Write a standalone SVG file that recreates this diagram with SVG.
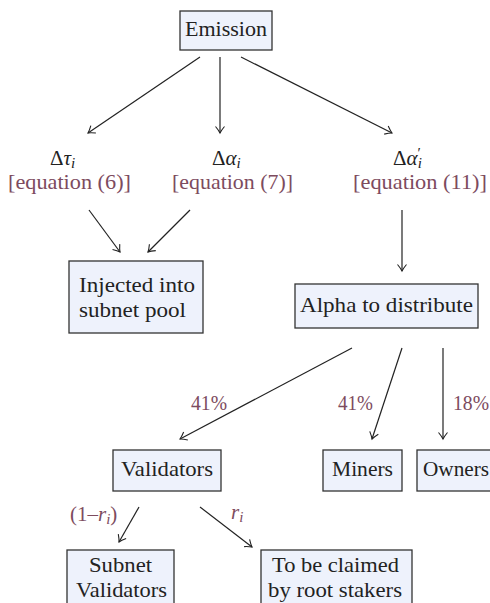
<svg xmlns="http://www.w3.org/2000/svg" xmlns:xlink="http://www.w3.org/1999/xlink" width="490" height="603" viewBox="0 0 490 603">
<defs>
<path id="ah" d="M -6.5 -4.5 Q -2.5 -1.2 0 0 Q -2.5 1.2 -6.5 4.5" fill="none" stroke="#222" stroke-width="1.1"/>
</defs>
<rect width="490" height="603" fill="#fff"/>
<g id="connectors" stroke="#222" stroke-width="1.2" fill="none">
<line x1="200" y1="57" x2="88" y2="133"/>
<line x1="220" y1="57" x2="220" y2="133"/>
<line x1="241" y1="57" x2="392" y2="133"/>
<line x1="89" y1="210" x2="120" y2="252"/>
<line x1="190" y1="210" x2="148" y2="252"/>
<line x1="402" y1="210" x2="402" y2="271"/>
<line x1="352" y1="348" x2="180" y2="439"/>
<line x1="402" y1="348" x2="372" y2="439"/>
<line x1="443" y1="348" x2="443" y2="439"/>
<line x1="139" y1="507" x2="119" y2="542"/>
<line x1="200" y1="507" x2="252" y2="547"/>
<use xlink:href="#ah" transform="translate(88,133) rotate(145.84)"/>
<use xlink:href="#ah" transform="translate(220,133) rotate(90)"/>
<use xlink:href="#ah" transform="translate(392,133) rotate(26.72)"/>
<use xlink:href="#ah" transform="translate(120,252) rotate(53.57)"/>
<use xlink:href="#ah" transform="translate(148,252) rotate(135)"/>
<use xlink:href="#ah" transform="translate(402,271) rotate(90)"/>
<use xlink:href="#ah" transform="translate(180,439) rotate(152.12)"/>
<use xlink:href="#ah" transform="translate(372,439) rotate(108.25)"/>
<use xlink:href="#ah" transform="translate(443,439) rotate(90)"/>
<use xlink:href="#ah" transform="translate(119,542) rotate(119.74)"/>
<use xlink:href="#ah" transform="translate(252,547) rotate(37.57)"/>
</g>
<g id="edge-labels" font-family="Liberation Serif, serif" font-size="21" fill="#7d4b5e">
<text font-family="Liberation Serif, serif" x="191" y="410" textLength="36" lengthAdjust="spacingAndGlyphs">41%</text>
<text font-family="Liberation Serif, serif" x="338" y="410" textLength="35" lengthAdjust="spacingAndGlyphs">41%</text>
<text font-family="Liberation Serif, serif" x="453" y="410" textLength="36" lengthAdjust="spacingAndGlyphs">18%</text>
<text font-family="Liberation Serif, serif" x="70" y="521">(1&#8211;<tspan font-style="italic">r</tspan><tspan font-style="italic" font-size="15" dy="3">i</tspan><tspan dy="-3">)</tspan></text>
<text font-family="Liberation Serif, serif" x="231" y="519"><tspan font-style="italic">r</tspan><tspan font-style="italic" font-size="15" dy="3">i</tspan></text>
</g>
<g id="nodes" font-family="Liberation Serif, serif" font-size="21">
<g id="emission">
<rect fill="#eef2fc" stroke="#333" stroke-width="1.3" x="180" y="11" width="92" height="39"/>
<text font-family="Liberation Serif, serif" fill="#222" x="185" y="36" textLength="82" lengthAdjust="spacingAndGlyphs">Emission</text>
</g>
<g id="dtau">
<text font-family="Liberation Serif, serif" fill="#222" x="50" y="165">&#916;<tspan font-style="italic">&#964;</tspan><tspan font-style="italic" font-size="15" dy="3">i</tspan></text>
<text font-family="Liberation Serif, serif" fill="#7d4b5e" x="8" y="189" textLength="123" lengthAdjust="spacingAndGlyphs">[equation (6)]</text>
</g>
<g id="dalpha">
<text font-family="Liberation Serif, serif" fill="#222" x="212" y="165">&#916;<tspan font-style="italic">&#945;</tspan><tspan font-style="italic" font-size="15" dy="3">i</tspan></text>
<text font-family="Liberation Serif, serif" fill="#7d4b5e" x="172" y="189" textLength="121" lengthAdjust="spacingAndGlyphs">[equation (7)]</text>
</g>
<g id="dalphaprime">
<text font-family="Liberation Serif, serif" fill="#222" x="393" y="165">&#916;<tspan font-style="italic">&#945;</tspan><tspan font-size="15" dy="-7">&#8242;</tspan><tspan font-style="italic" font-size="15" dx="-3" dy="10">i</tspan></text>
<text font-family="Liberation Serif, serif" fill="#7d4b5e" x="353" y="189" textLength="134" lengthAdjust="spacingAndGlyphs">[equation (11)]</text>
</g>
<g id="injected">
<rect fill="#eef2fc" stroke="#333" stroke-width="1.3" x="69" y="261" width="134" height="72"/>
<text font-family="Liberation Serif, serif" fill="#222" x="79" y="292" textLength="116" lengthAdjust="spacingAndGlyphs">Injected into</text>
<text font-family="Liberation Serif, serif" fill="#222" x="79" y="317" textLength="107" lengthAdjust="spacingAndGlyphs">subnet pool</text>
</g>
<g id="alpha">
<rect fill="#eef2fc" stroke="#333" stroke-width="1.3" x="295" y="284" width="183" height="44"/>
<text font-family="Liberation Serif, serif" fill="#222" x="300" y="312" textLength="173" lengthAdjust="spacingAndGlyphs">Alpha to distribute</text>
</g>
<g id="validators">
<rect fill="#eef2fc" stroke="#333" stroke-width="1.3" x="113" y="450" width="108" height="41"/>
<text font-family="Liberation Serif, serif" fill="#222" x="121" y="476" textLength="92" lengthAdjust="spacingAndGlyphs">Validators</text>
</g>
<g id="miners">
<rect fill="#eef2fc" stroke="#333" stroke-width="1.3" x="323" y="450" width="79" height="41"/>
<text font-family="Liberation Serif, serif" fill="#222" x="332" y="476" textLength="61" lengthAdjust="spacingAndGlyphs">Miners</text>
</g>
<g id="owners">
<rect fill="#eef2fc" stroke="#333" stroke-width="1.3" x="417" y="450" width="90" height="41"/>
<text font-family="Liberation Serif, serif" fill="#222" x="423" y="476" textLength="66" lengthAdjust="spacingAndGlyphs">Owners</text>
</g>
<g id="subnetvalidators">
<rect fill="#eef2fc" stroke="#333" stroke-width="1.3" x="67" y="550" width="107" height="70"/>
<text font-family="Liberation Serif, serif" fill="#222" x="89" y="572" textLength="63" lengthAdjust="spacingAndGlyphs">Subnet</text>
<text font-family="Liberation Serif, serif" fill="#222" x="76" y="597" textLength="91" lengthAdjust="spacingAndGlyphs">Validators</text>
</g>
<g id="rootstakers">
<rect fill="#eef2fc" stroke="#333" stroke-width="1.3" x="261" y="550" width="151" height="70"/>
<text font-family="Liberation Serif, serif" fill="#222" x="272" y="572" textLength="127" lengthAdjust="spacingAndGlyphs">To be claimed</text>
<text font-family="Liberation Serif, serif" fill="#222" x="268" y="597" textLength="134" lengthAdjust="spacingAndGlyphs">by root stakers</text>
</g>
</g>
</svg>
